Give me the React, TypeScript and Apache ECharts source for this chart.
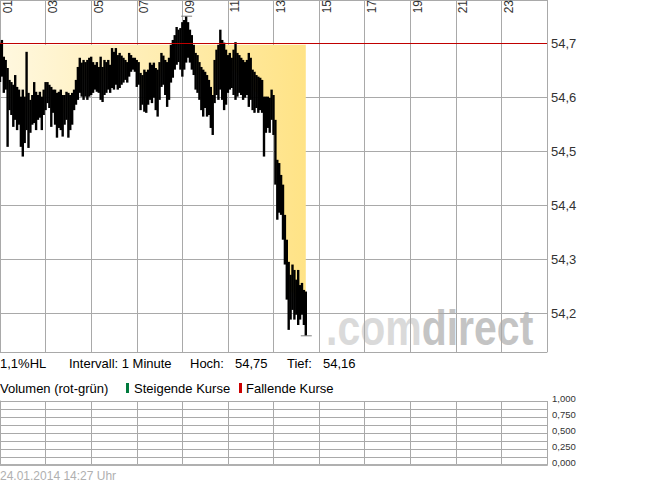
import React, { useEffect, useRef } from 'react';
import * as echarts from 'echarts';

// ---------- data ----------
const hourTickLabels = ['01', '03', '05', '07', '09', '11', '13', '15', '17', '19', '21', '23'];
const DAY_MINUTES = 1440;
const TICK_MINUTES = 120;
const BAR_STEP_MIN = 5; // one bar per 5 minutes starting 01:00
const PREV_CLOSE = 54.697;
const PRICE_MIN = 54.128;
const PRICE_MAX = 54.78;
const priceTickValues = [54.2, 54.3, 54.4, 54.5, 54.6, 54.7];
const priceTickLabels = ['54,2', '54,3', '54,4', '54,5', '54,6', '54,7'];
const volumeTickValues = [0, 0.25, 0.5, 0.75, 1];
const volumeTickLabels = ['0,000', '0,250', '0,500', '0,750', '1,000'];
const volume: number[][] = [];
const INTERVAL_TEXT = 'Intervall: 1 Minute';
const TIMESTAMP = '24.01.2014 14:27 Uhr';

const high = [
  54.701, 54.706, 54.675, 54.669, 54.654, 54.632, 54.628, 54.623, 54.641, 54.619,
  54.614, 54.601, 54.614, 54.601, 54.684, 54.608, 54.595, 54.604, 54.628, 54.610,
  54.604, 54.610, 54.601, 54.614, 54.628, 54.628, 54.623, 54.619, 54.614, 54.614,
  54.608, 54.610, 54.614, 54.604, 54.604, 54.610, 54.608, 54.604, 54.608, 54.614,
  54.632, 54.656, 54.673, 54.664, 54.669, 54.665, 54.669, 54.673, 54.675, 54.665,
  54.660, 54.665, 54.656, 54.675, 54.656, 54.669, 54.665, 54.669, 54.660, 54.691,
  54.684, 54.691, 54.678, 54.682, 54.677, 54.673, 54.669, 54.665, 54.682, 54.678,
  54.673, 54.673, 54.669, 54.665, 54.645, 54.641, 54.651, 54.647, 54.651, 54.664,
  54.660, 54.664, 54.654, 54.651, 54.665, 54.682, 54.677, 54.669, 54.665, 54.673,
  54.697, 54.706, 54.715, 54.730, 54.725, 54.728, 54.739, 54.743, 54.750, 54.739,
  54.725, 54.715, 54.697, 54.682, 54.678, 54.665, 54.656, 54.651, 54.647, 54.641,
  54.632, 54.619, 54.604, 54.669, 54.688, 54.697, 54.725, 54.706, 54.701, 54.688,
  54.678, 54.682, 54.673, 54.688, 54.702, 54.682, 54.678, 54.673, 54.669, 54.665,
  54.669, 54.682, 54.673, 54.651, 54.647, 54.641, 54.638, 54.636, 54.632, 54.601,
  54.601, 54.601, 54.599, 54.614, 54.604, 54.558, 54.484, 54.478, 54.456, 54.438,
  54.382, 54.336, 54.295, 54.271, 54.290, 54.280, 54.262, 54.280, 54.252, 54.256,
  54.243, 54.240,
];

const low = [
  54.628, 54.638, 54.608, 54.614, 54.508, 54.576, 54.567, 54.545, 54.558, 54.539,
  54.549, 54.508, 54.490, 54.515, 54.539, 54.506, 54.534, 54.549, 54.552, 54.539,
  54.558, 54.562, 54.539, 54.567, 54.576, 54.589, 54.580, 54.545, 54.571, 54.549,
  54.525, 54.543, 54.539, 54.527, 54.549, 54.558, 54.525, 54.539, 54.549, 54.576,
  54.586, 54.595, 54.608, 54.601, 54.595, 54.601, 54.595, 54.601, 54.604, 54.608,
  54.614, 54.610, 54.608, 54.595, 54.591, 54.604, 54.608, 54.614, 54.608, 54.617,
  54.614, 54.623, 54.614, 54.617, 54.623, 54.627, 54.632, 54.627, 54.638, 54.647,
  54.651, 54.647, 54.619, 54.623, 54.576, 54.586, 54.573, 54.571, 54.586, 54.595,
  54.589, 54.599, 54.576, 54.564, 54.595, 54.619, 54.623, 54.604, 54.582, 54.595,
  54.627, 54.636, 54.651, 54.660, 54.665, 54.651, 54.638, 54.651, 54.664, 54.673,
  54.664, 54.651, 54.641, 54.614, 54.608, 54.595, 54.576, 54.564, 54.580, 54.564,
  54.567, 54.543, 54.530, 54.589, 54.604, 54.595, 54.614, 54.595, 54.576, 54.586,
  54.608, 54.614, 54.617, 54.604, 54.595, 54.601, 54.608, 54.604, 54.595, 54.599,
  54.604, 54.582, 54.595, 54.576, 54.571, 54.580, 54.571, 54.576, 54.571, 54.490,
  54.534, 54.543, 54.534, 54.558, 54.530, 54.438, 54.373, 54.386, 54.382, 54.336,
  54.290, 54.225, 54.169, 54.188, 54.206, 54.188, 54.197, 54.178, 54.188, 54.197,
  54.178, 54.158,
];

const close = [
  54.669, 54.678, 54.651, 54.641, 54.614, 54.604, 54.595, 54.586, 54.604, 54.576,
  54.586, 54.558, 54.549, 54.558, 54.576, 54.558, 54.567, 54.576, 54.595, 54.576,
  54.586, 54.595, 54.576, 54.595, 54.604, 54.610, 54.604, 54.586, 54.595, 54.586,
  54.567, 54.576, 54.580, 54.567, 54.576, 54.586, 54.573, 54.576, 54.580, 54.595,
  54.610, 54.628, 54.641, 54.632, 54.636, 54.632, 54.632, 54.636, 54.641, 54.636,
  54.636, 54.641, 54.632, 54.641, 54.623, 54.636, 54.636, 54.641, 54.632, 54.654,
  54.651, 54.660, 54.647, 54.651, 54.651, 54.651, 54.651, 54.647, 54.660, 54.664,
  54.664, 54.660, 54.647, 54.647, 54.614, 54.617, 54.614, 54.610, 54.617, 54.632,
  54.628, 54.632, 54.617, 54.614, 54.632, 54.651, 54.651, 54.641, 54.628, 54.641,
  54.665, 54.673, 54.684, 54.697, 54.697, 54.691, 54.697, 54.702, 54.710, 54.706,
  54.697, 54.684, 54.669, 54.651, 54.641, 54.632, 54.617, 54.610, 54.614, 54.604,
  54.599, 54.586, 54.567, 54.632, 54.651, 54.651, 54.669, 54.654, 54.641, 54.636,
  54.641, 54.647, 54.647, 54.651, 54.651, 54.641, 54.641, 54.638, 54.632, 54.632,
  54.636, 54.632, 54.632, 54.614, 54.610, 54.610, 54.604, 54.604, 54.601, 54.567,
  54.567, 54.573, 54.567, 54.586, 54.567, 54.484, 54.419, 54.428, 54.410, 54.382,
  54.327, 54.280, 54.243, 54.234, 54.243, 54.234, 54.228, 54.225, 54.225, 54.228,
  54.215, 54.225,
];

// ---------- styling ----------
const FONT = '"Liberation Sans", Arial, Helvetica, sans-serif';
const GRID_COLOR = '#a9a9a9';
const TEXT_COLOR = '#000000';
const LABEL_COLOR = '#333333';

const fmt = (v: number, d: number) => v.toFixed(d).replace('.', ',');
const lookupLabel = (vals: number[], labels: string[], v: number) => {
  const idx = vals.findIndex((t) => Math.abs(t - v) < 1e-6);
  return idx >= 0 ? labels[idx] : '';
};

export default function App() {
  const ref = useRef<HTMLDivElement>(null);

  useEffect(() => {
    if (!ref.current) return;
    const chart = echarts.init(ref.current, undefined, { renderer: 'svg' });

    const times = high.map((_, i) => i * BAR_STEP_MIN);
    const bars = times.map((t, i) => [t, low[i], high[i]]);
    const fillData = times.map((t, i) => [t, Math.min(close[i], PREV_CLOSE)]);
    let hiIdx = 0;
    let loIdx = 0;
    high.forEach((v, i) => { if (v > high[hiIdx]) hiIdx = i; });
    low.forEach((v, i) => { if (v < low[loIdx]) loIdx = i; });
    const dayHigh = high[hiIdx];
    const dayLow = low[loIdx];
    const rangePct = ((dayHigh - dayLow) / dayLow) * 100;

    const textEl = (text: string, x: number, y: number, size = 13, fill = TEXT_COLOR) => ({
      type: 'text',
      x,
      y,
      silent: true,
      style: { text, fill, fontSize: size, fontFamily: FONT, verticalAlign: 'middle', align: 'left' },
    });

    const option: any = {
      animation: false,
      backgroundColor: '#ffffff',
      grid: [
        { left: 0, top: 0, width: 547, height: 352, containLabel: false, outerBoundsMode: 'none' },
        { left: 0, top: 401, width: 547, height: 64, containLabel: false, outerBoundsMode: 'none' },
      ],
      xAxis: [
        {
          type: 'value', gridIndex: 0, position: 'top', min: 0, max: DAY_MINUTES, interval: TICK_MINUTES,
          axisLine: { show: false }, axisTick: { show: false }, axisLabel: { show: false },
          splitLine: { show: true, lineStyle: { color: GRID_COLOR, width: 1 } },
        },
        {
          type: 'value', gridIndex: 0, position: 'bottom', min: 0, max: DAY_MINUTES, interval: TICK_MINUTES,
          axisLine: { show: true, lineStyle: { color: GRID_COLOR, width: 1 } },
          axisTick: { show: false }, axisLabel: { show: false }, splitLine: { show: false },
        },
        {
          type: 'value', gridIndex: 1, position: 'bottom', min: 0, max: DAY_MINUTES, interval: TICK_MINUTES,
          axisLine: { show: true, lineStyle: { color: '#b0b0b0', width: 2 } },
          axisTick: { show: false }, axisLabel: { show: false },
          splitLine: { show: true, lineStyle: { color: GRID_COLOR, width: 1 } },
        },
      ],
      yAxis: [
        {
          type: 'value', gridIndex: 0, position: 'right', min: PRICE_MIN, max: PRICE_MAX, splitNumber: 6, scale: true,
          axisLine: { show: true, lineStyle: { color: GRID_COLOR, width: 1 } },
          axisTick: { show: false },
          splitLine: { show: true, lineStyle: { color: GRID_COLOR, width: 1 } },
          axisLabel: {
            show: true, margin: 4, fontSize: 13, fontFamily: FONT, color: LABEL_COLOR,
            showMinLabel: true, showMaxLabel: true, hideOverlap: false,
            formatter: (v: number) => lookupLabel(priceTickValues, priceTickLabels, v),
          },
        },
        {
          type: 'value', gridIndex: 1, position: 'right', min: 0, max: 1, interval: 0.125,
          axisLine: { show: true, lineStyle: { color: GRID_COLOR, width: 1 } },
          axisTick: { show: false },
          splitLine: { show: true, lineStyle: { color: GRID_COLOR, width: 1 } },
          axisLabel: {
            show: true, margin: 5, fontSize: 9.5, fontFamily: FONT, color: LABEL_COLOR,
            verticalAlign: 'bottom', lineHeight: 6, hideOverlap: false,
            formatter: (v: number) => lookupLabel(volumeTickValues, volumeTickLabels, v),
          },
        },
      ],
      series: [
        {
          type: 'line', xAxisIndex: 0, yAxisIndex: 0, z: 1, data: fillData, symbol: 'none', silent: true,
          lineStyle: { width: 0, opacity: 0 },
          areaStyle: {
            origin: PREV_CLOSE, opacity: 1,
            color: new echarts.graphic.LinearGradient(0, 0, 1, 0, [
              { offset: 0, color: '#fff8e0' },
              { offset: 1, color: '#ffe386' },
            ]),
          },
        },
        {
          type: 'custom', xAxisIndex: 0, yAxisIndex: 0, z: 3, silent: true, data: bars,
          encode: { x: 0, y: [1, 2] },
          renderItem: (_p: any, api: any) => {
            const a = api.coord([api.value(0), api.value(1)]);
            const b = api.coord([api.value(0), api.value(2)]);
            return {
              type: 'line',
              shape: { x1: a[0], y1: a[1], x2: b[0], y2: b[1] },
              style: { stroke: '#000000', lineWidth: 2.4 },
            };
          },
        },
        {
          type: 'custom', xAxisIndex: 0, yAxisIndex: 0, z: 4, silent: true,
          data: [[times[hiIdx], dayHigh], [times[loIdx], dayLow]],
          encode: { x: 0, y: 1 },
          renderItem: (_p: any, api: any) => {
            const c = api.coord([api.value(0), api.value(1)]);
            return {
              type: 'line',
              shape: { x1: c[0] - 5, y1: c[1], x2: c[0] + 6, y2: c[1] },
              style: { stroke: '#808080', lineWidth: 1 },
            };
          },
          markLine: {
            silent: true, symbol: ['none', 'none'], label: { show: false },
            lineStyle: { color: '#c00000', width: 1, type: 'solid' },
            data: [{ yAxis: PREV_CLOSE }],
          },
        },
        {
          type: 'bar', xAxisIndex: 2, yAxisIndex: 1, data: volume, silent: true,
        },
      ],
    };

    chart.setOption(option);

    // hour labels placed at the x-axis tick positions (rotated, inside the plot)
    const hourLabels = hourTickLabels.map((label, i) => {
      const px = chart.convertToPixel({ xAxisIndex: 0 }, i * TICK_MINUTES) as number;
      return {
        type: 'text',
        x: px + 1.5,
        y: 0,
        rotation: Math.PI / 2,
        silent: true,
        style: {
          text: label, fill: LABEL_COLOR, fontSize: 12, fontFamily: FONT,
          align: 'right', verticalAlign: 'top',
        },
      };
    });

    chart.setOption({
      graphic: [
        {
          type: 'text', x: 326, y: 328, scaleX: 0.82, z: -1, silent: true,
          style: {
            text: '{a|.com}{b|direct}',
            fontSize: 50, fontWeight: 'bold', fontFamily: FONT, verticalAlign: 'middle', align: 'left',
            rich: {
              a: { fill: '#dadada', fontSize: 50, fontWeight: 'bold', fontFamily: FONT },
              b: { fill: '#c4c4c4', fontSize: 50, fontWeight: 'bold', fontFamily: FONT },
            },
          },
        },
        ...hourLabels,
        textEl(fmt(rangePct, 1) + '%HL', 0, 363),
        textEl(INTERVAL_TEXT, 69, 363),
        textEl('Hoch:', 190, 363),
        textEl(fmt(dayHigh, 2), 235, 363),
        textEl('Tief:', 287, 363),
        textEl(fmt(dayLow, 2), 323, 363),
        textEl('Volumen (rot-grün)', 0, 388),
        { type: 'rect', silent: true, shape: { x: 126, y: 383, width: 3, height: 10 }, style: { fill: '#007a3d' } },
        textEl('Steigende Kurse', 134, 388),
        { type: 'rect', silent: true, shape: { x: 239, y: 383, width: 3, height: 10 }, style: { fill: '#cc0000' } },
        textEl('Fallende Kurse', 246, 388),
        textEl(TIMESTAMP, 0, 476, 12, '#b0b0b0'),
      ],
    });

    return () => chart.dispose();
  }, []);

  return (
    <div
      ref={ref}
      style={{ position: 'fixed', left: 0, top: 0, width: 645, height: 483, background: '#fff' }}
    />
  );
}
